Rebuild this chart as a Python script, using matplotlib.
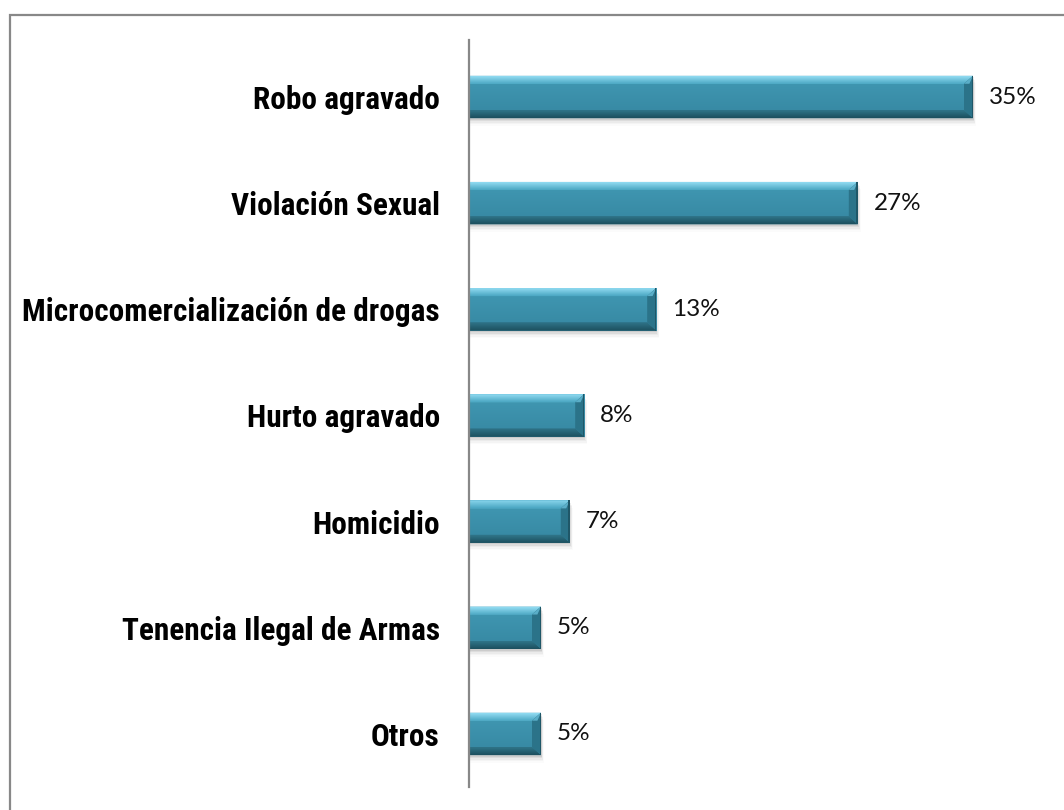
import matplotlib
matplotlib.use("Agg")
import matplotlib.pyplot as plt
import numpy as np
from matplotlib.patches import Rectangle, Polygon
from matplotlib.colors import LinearSegmentedColormap

categories = ["Robo agravado", "Violación Sexual", "Microcomercialización de drogas",
              "Hurto agravado", "Homicidio", "Tenencia Ilegal de Armas", "Otros"]
values = [35, 27, 13, 8, 7, 5, 5]
value_labels = ["35%", "27%", "13%", "8%", "7%", "5%", "5%"]

W, H = 1064, 810
fig = plt.figure(figsize=(W / 100, H / 100), dpi=100)
fig.patch.set_facecolor("white")

# outer frame (cropped at right/bottom)
fig.patches.append(Rectangle((9.5 / W, -0.1), 1.2, 1 - 14.5 / H + 0.1, transform=fig.transFigure,
                             fill=False, edgecolor="#888888", linewidth=1.6))

ax_left, ax_right = 469 / W, 1045 / W
ax_top, ax_bot = 1 - 40 / H, 1 - 787 / H
ax = fig.add_axes([ax_left, ax_bot, ax_right - ax_left, ax_top - ax_bot])
ax.set_facecolor("none")

xmax = 40.0
ypos = np.arange(len(categories))
bh = 0.40

# pixel->data scale for bevels
px_x = xmax / (ax_right - ax_left) / W
px_y = 7.037 / (ax_top - ax_bot) / H
dx = 9 * px_x
dy = 8 * px_y

top_cmap = LinearSegmentedColormap.from_list("t", ["#92dcf2", "#4ba7c3"])
bot_cmap = LinearSegmentedColormap.from_list("b", ["#307589", "#1c4f5e"])
face_cmap = LinearSegmentedColormap.from_list("f", ["#4199b4", "#3687a1"])

for y, v in zip(ypos, values):
    top = y - bh / 2
    bot = y + bh / 2
    # shadow
    for k, a in zip(range(1, 6), [0.12, 0.09, 0.06, 0.04, 0.02]):
        ax.add_patch(Rectangle((0, top + k * px_y * 1.5), v + k * px_x * 0.6, bh,
                               facecolor="#555555", alpha=a, edgecolor="none", zorder=1))
    face = Rectangle((0, top), v, bh, facecolor="#3a8faa", edgecolor="none", zorder=2)
    ax.add_patch(face)
    g = np.linspace(0, 1, 64).reshape(-1, 1)
    im = ax.imshow(g, cmap=face_cmap, extent=(0, v, bot, top), aspect="auto", zorder=2.1,
                   interpolation="bilinear")
    im.set_clip_path(face)
    # top bevel
    tp = Polygon([(0, top), (v, top), (v - dx, top + dy), (0, top + dy)], closed=True,
                 facecolor="#5fb8d2", edgecolor="none", zorder=3)
    ax.add_patch(tp)
    im2 = ax.imshow(g, cmap=top_cmap, extent=(0, v, top + dy, top), aspect="auto", zorder=3.1,
                    interpolation="bilinear")
    im2.set_clip_path(tp)
    # bottom bevel
    bp = Polygon([(0, bot), (v, bot), (v - dx, bot - dy), (0, bot - dy)], closed=True,
                 facecolor="#2a6a7e", edgecolor="none", zorder=3)
    ax.add_patch(bp)
    im3 = ax.imshow(g, cmap=bot_cmap, extent=(0, v, bot, bot - dy), aspect="auto", zorder=3.1,
                    interpolation="bilinear")
    im3.set_clip_path(bp)
    # right bevel
    ax.add_patch(Polygon([(v, top), (v, bot), (v - dx, bot - dy), (v - dx, top + dy)], closed=True,
                         facecolor="#2b7389", edgecolor="none", zorder=3.2))
    ax.add_patch(Polygon([(v, top), (v - dx, top + dy), (v - dx * 0.4, top + dy)], closed=True,
                         facecolor="#5aaec8", edgecolor="none", zorder=3.3))
    ax.add_patch(Rectangle((v - px_x * 1.5, top), px_x * 1.5, bh, facecolor="#1f5768",
                           edgecolor="none", zorder=3.4))

for y, v, lab in zip(ypos, values, value_labels):
    ax.text(v + 1.1, y, lab, va="center", ha="left", fontsize=17.5, family="Lato", color="#111111")

ax.set_xlim(0, xmax)
ax.set_ylim(6.5, -0.537)
ax.set_yticks(ypos)
ax.set_yticklabels(categories, fontsize=22.5, fontweight="bold",
                   family=["Roboto Condensed", "Roboto", "Liberation Sans", "DejaVu Sans"])
ax.tick_params(axis="y", length=0, pad=21)
ax.set_xticks([])
for s in ["top", "right", "bottom"]:
    ax.spines[s].set_visible(False)
ax.spines["left"].set_color("#888888")
ax.spines["left"].set_linewidth(1.6)
ax.spines["left"].set_zorder(5)

fig.savefig("out.png", dpi=100, facecolor="white")
